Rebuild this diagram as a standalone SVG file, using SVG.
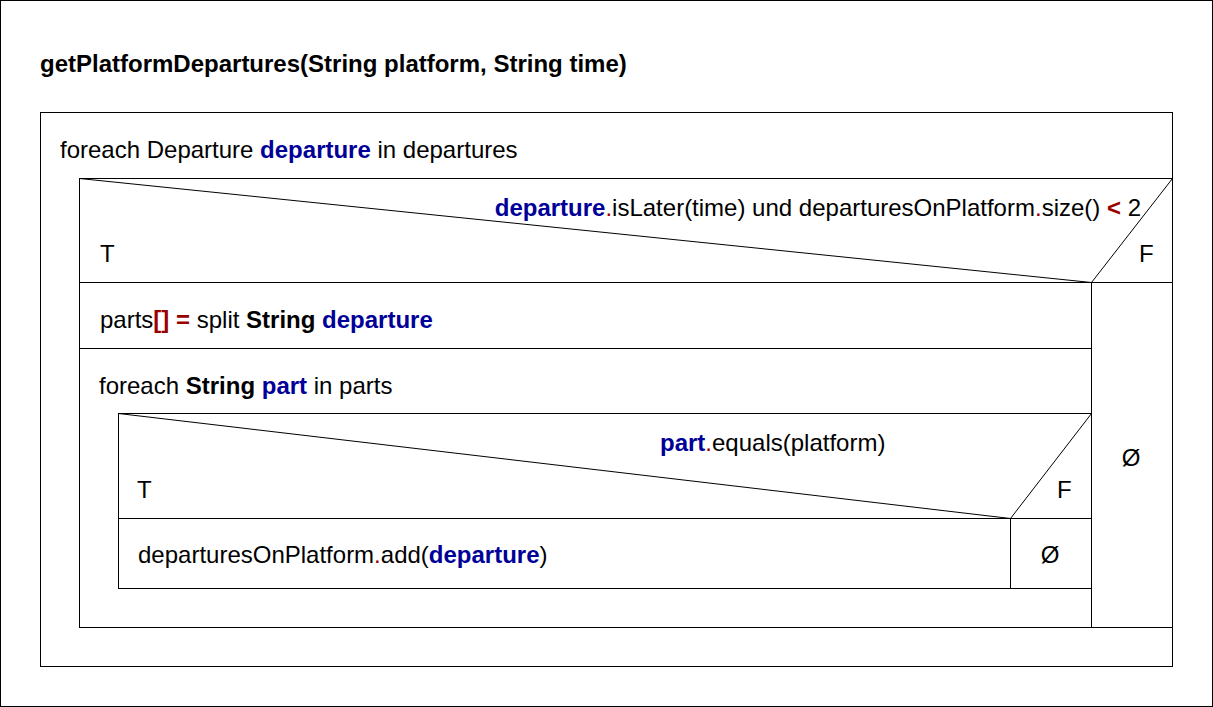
<svg xmlns="http://www.w3.org/2000/svg" width="1213" height="707" viewBox="0 0 1213 707">
<style>
text{font-family:"Liberation Sans",Arial,sans-serif;font-size:24px;fill:#000}
.b{font-weight:bold}
.v{font-weight:bold;fill:#000099}
.r{fill:#990000}
.rb{fill:#990000;font-weight:bold}
.box{fill:#fff;stroke:#000;stroke-width:1}
.ln{stroke:#000;stroke-width:1;fill:none}
</style>
<rect x="0.5" y="0.5" width="1212" height="706" fill="#fff" stroke="#000"/>
<g id="title"><text x="40" y="72" class="b">getPlatformDepartures(String platform, String time)</text></g>
<g id="loop1">
<rect class="box" x="40.5" y="112.5" width="1132" height="554"/>
<text x="60" y="158">foreach Departure <tspan class="v">departure</tspan> in departures</text>
</g>
<g id="if1">
<rect class="box" x="79.5" y="178.5" width="1093" height="449"/>
<line class="ln" x1="79.5" y1="178.5" x2="1091.5" y2="282.5"/>
<line class="ln" x1="1091.5" y1="282.5" x2="1172.5" y2="178.5"/>
<line class="ln" x1="79.5" y1="282.5" x2="1172.5" y2="282.5"/>
<line class="ln" x1="1091.5" y1="282.5" x2="1091.5" y2="627.5"/>
<text x="1141" y="216" text-anchor="end"><tspan class="v">departure</tspan><tspan class="r">.</tspan>isLater(time) und departuresOnPlatform<tspan class="r">.</tspan>size() <tspan class="rb">&lt;</tspan> 2</text>
<text x="100" y="262">T</text>
<text x="1139" y="262">F</text>
</g>
<g id="assign">
<line class="ln" x1="79.5" y1="348.5" x2="1091.5" y2="348.5"/>
<text x="100" y="328">parts<tspan class="rb">[]</tspan> <tspan class="rb">=</tspan> split <tspan class="b">String</tspan> <tspan class="v">departure</tspan></text>
</g>
<g id="loop2">
<text x="99" y="394">foreach <tspan class="b">String</tspan> <tspan class="v">part</tspan> in parts</text>
</g>
<g id="if2">
<rect class="box" x="118.5" y="413.5" width="973" height="175"/>
<line class="ln" x1="118.5" y1="413.5" x2="1010.5" y2="518.5"/>
<line class="ln" x1="1010.5" y1="518.5" x2="1091.5" y2="413.5"/>
<line class="ln" x1="118.5" y1="518.5" x2="1091.5" y2="518.5"/>
<line class="ln" x1="1010.5" y1="518.5" x2="1010.5" y2="588.5"/>
<text x="660" y="451"><tspan class="v">part</tspan><tspan class="r">.</tspan>equals(platform)</text>
<text x="137" y="498">T</text>
<text x="1057" y="498">F</text>
</g>
<g id="add">
<text x="138" y="563">departuresOnPlatform<tspan class="r">.</tspan>add(<tspan class="v">departure</tspan>)</text>
</g>
<g id="empty2"><text x="1050" y="563" text-anchor="middle">Ø</text></g>
<g id="empty1"><text x="1131" y="466" text-anchor="middle">Ø</text></g>
<g id="connectors"></g>
</svg>
